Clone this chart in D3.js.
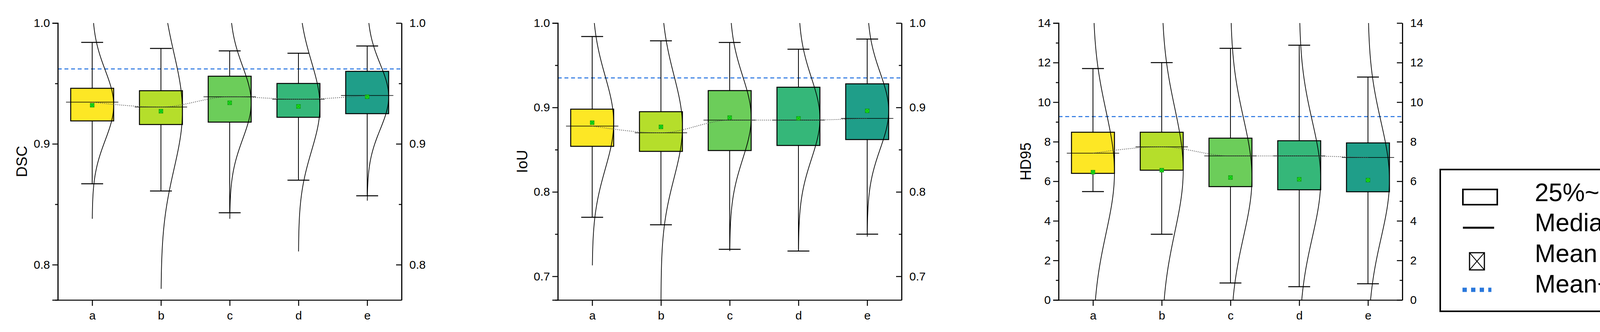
<!DOCTYPE html>
<html><head><meta charset="utf-8">
<script src="https://cdn.jsdelivr.net/npm/d3@7"></script>
<style>body{margin:0;background:#fff}text{font-family:"Liberation Sans",Arial,sans-serif}</style>
</head><body><svg id="c" width="4261" height="850"></svg>
<script>
const categories = ["a","b","c","d","e"];
const colors = ["#fde725","#b5de2b","#6ccd5a","#35b779","#1f9e89"];
// DSC
const dscWhiskHi = [0.984,0.979,0.977,0.975,0.981];
const dscQ3      = [0.946,0.944,0.956,0.950,0.960];
const dscMedian  = [0.9345,0.9305,0.939,0.937,0.940];
const dscMean    = [0.932,0.927,0.934,0.931,0.939];
const dscQ1      = [0.919,0.916,0.918,0.922,0.925];
const dscWhiskLo = [0.867,0.861,0.843,0.870,0.857];
const dscSD      = [0.029,0.048,0.030,0.037,0.027];
const dscCurveLo = [0.838,0.780,0.838,0.811,0.853];
const dscMeanSD  = 0.962;
// IoU
const iouWhiskHi = [0.984,0.979,0.977,0.969,0.981];
const iouQ3      = [0.898,0.895,0.920,0.924,0.928];
const iouMedian  = [0.878,0.870,0.885,0.885,0.887];
const iouMean    = [0.882,0.877,0.888,0.887,0.896];
const iouQ1      = [0.854,0.848,0.849,0.855,0.862];
const iouWhiskLo = [0.770,0.761,0.732,0.730,0.750];
const iouSD      = [0.055,0.061,0.049,0.048,0.045];
const iouCurveLo = [0.713,0.640,0.730,0.732,0.747];
const iouMeanSD  = 0.935;
// HD95
const hdWhiskHi = [11.70,12.00,12.72,12.88,11.27];
const hdQ3      = [8.48,8.48,8.18,8.05,7.94];
const hdMedian  = [7.42,7.74,7.28,7.28,7.20];
const hdMean    = [6.46,6.56,6.19,6.10,6.06];
const hdQ1      = [6.40,6.56,5.73,5.57,5.47];
const hdWhiskLo = [5.48,3.32,0.86,0.67,0.82];
const hdSD      = [3.10,3.15,3.00,2.95,2.95];
const hdCurveLo = [-2,-2,-2,-2,-2];
const hdMeanSD  = 9.27;
// axes
const dscDomain=[0.7708,1.0], dscTicks=[0.8,0.9,1.0], dscMinor=[0.85,0.95];
const iouDomain=[0.672,1.0], iouTicks=[0.7,0.8,0.9,1.0], iouMinor=[0.75,0.85,0.95];
const hdDomain=[0,14], hdTicks=[0,2,4,6,8,10,12,14], hdMinor=[1,3,5,7,9,11,13];
const legendLabels=["25%~75%","Median","Mean","Mean+SD"];

const panels=[
 {x0:148,label:"DSC",dom:dscDomain,ticks:dscTicks,minor:dscMinor,fmt:d3.format(".1f"),hi:dscWhiskHi,q3:dscQ3,med:dscMedian,mean:dscMean,q1:dscQ1,lo:dscWhiskLo,sd:dscSD,clo:dscCurveLo,msd:dscMeanSD,lx:55},
 {x0:1428,label:"IoU",dom:iouDomain,ticks:iouTicks,minor:iouMinor,fmt:d3.format(".1f"),hi:iouWhiskHi,q3:iouQ3,med:iouMedian,mean:iouMean,q1:iouQ1,lo:iouWhiskLo,sd:iouSD,clo:iouCurveLo,msd:iouMeanSD,lx:1336},
 {x0:2710,label:"HD95",dom:hdDomain,ticks:hdTicks,minor:hdMinor,fmt:d3.format("d"),hi:hdWhiskHi,q3:hdQ3,med:hdMedian,mean:hdMean,q1:hdQ1,lo:hdWhiskLo,sd:hdSD,clo:hdCurveLo,msd:hdMeanSD,lx:2625}
];
const svg=d3.select("#c");
const W=880, pTop=59, pBot=768;
panels.forEach((p,pi)=>{
  const g=svg.append("g");
  const x=d3.scalePoint().domain(categories).range([p.x0,p.x0+W]).padding(0.5);
  const y=d3.scaleLinear().domain(p.dom).range([pBot,pTop]);
  const step=x.step(), bw=step*0.625, hw=bw/2;
  const clipId="clip"+pi;
  svg.append("clipPath").attr("id",clipId).append("rect").attr("x",p.x0).attr("y",pTop).attr("width",W).attr("height",pBot-pTop);
  g.append("line").attr("x1",p.x0).attr("x2",p.x0+W).attr("y1",y(p.msd)).attr("y2",y(p.msd))
   .attr("stroke","#1f6fe0").attr("stroke-width",2.5).attr("stroke-dasharray","10,7");
  categories.forEach((c,i)=>{
    const cx=x(c);
    g.append("line").attr("x1",cx).attr("x2",cx).attr("y1",y(p.hi[i])).attr("y2",y(p.lo[i])).attr("stroke","#000").attr("stroke-width",2);
    [p.hi[i],p.lo[i]].forEach(v=>g.append("line").attr("x1",cx-28).attr("x2",cx+28).attr("y1",y(v)).attr("y2",y(v)).attr("stroke","#000").attr("stroke-width",2.5));
    g.append("rect").attr("x",cx-hw).attr("width",bw).attr("y",y(p.q3[i])).attr("height",y(p.q1[i])-y(p.q3[i]))
     .attr("fill",colors[i]).attr("stroke","#000").attr("stroke-width",2.5);
    g.append("line").attr("x1",cx-hw-12).attr("x2",cx+hw+12).attr("y1",y(p.med[i])).attr("y2",y(p.med[i])).attr("stroke","#000").attr("stroke-width",1.5);
    const vals=d3.range(0,401).map(k=>p.clo[i]+(p.dom[1]+(p.dom[1]-p.dom[0])*0.2-p.clo[i])*k/400);
    const line=d3.line().x(v=>cx+hw*Math.exp(-0.5*Math.pow((v-p.mean[i])/p.sd[i],2))).y(v=>y(v));
    g.append("path").attr("d",line(vals)).attr("fill","none").attr("stroke","#000").attr("stroke-width",1.8).attr("clip-path",`url(#${clipId})`);
    const my=y(p.mean[i]), s=5;
    g.append("rect").attr("x",cx-s).attr("y",my-s).attr("width",2*s).attr("height",2*s).attr("fill","#19e619").attr("stroke","#0a8a0a").attr("stroke-width",1);
    g.append("path").attr("d",`M${cx-s},${my-s}L${cx+s},${my+s}M${cx+s},${my-s}L${cx-s},${my+s}`).attr("stroke","#0a8a0a").attr("stroke-width",1);
  });
  g.append("path").attr("d",d3.line().x((v,i)=>x(categories[i])).y(v=>y(v)).curve(d3.curveMonotoneX)(p.med))
   .attr("fill","none").attr("stroke","#555").attr("stroke-width",2).attr("stroke-dasharray","2,3");
  g.append("g").attr("transform",`translate(${p.x0},0)`).call(d3.axisLeft(y).tickValues(p.ticks).tickFormat(p.fmt).tickSize(14).tickPadding(6));
  g.append("g").attr("transform",`translate(${p.x0},0)`).call(d3.axisLeft(y).tickValues(p.minor).tickFormat("").tickSize(7));
  g.append("g").attr("transform",`translate(${p.x0+W},0)`).call(d3.axisRight(y).tickValues(p.ticks).tickFormat(p.fmt).tickSizeInner(-14).tickSizeOuter(0).tickPadding(20));
  g.append("g").attr("transform",`translate(${p.x0+W},0)`).call(d3.axisRight(y).tickValues(p.minor).tickFormat("").tickSizeInner(-7).tickSizeOuter(0));
  g.append("g").attr("transform",`translate(0,${pBot})`).call(d3.axisBottom(x).tickSize(15).tickSizeOuter(0).tickPadding(14));
  g.selectAll(".domain").attr("stroke","#000").attr("stroke-width",2.5);
  g.selectAll(".tick line").attr("stroke","#000").attr("stroke-width",2.5);
  g.selectAll(".tick text").attr("font-size",30).attr("font-family","Liberation Sans, Arial").attr("fill","#000");
  g.append("text").attr("transform",`translate(${p.lx+14},${(pTop+pBot)/2}) rotate(-90)`).attr("text-anchor","middle")
   .attr("font-size",38).text(p.label);
});
const L=svg.append("g");
L.append("rect").attr("x",3687).attr("y",434).attr("width",541).attr("height",363).attr("fill","#fff").attr("stroke","#000").attr("stroke-width",4);
L.append("rect").attr("x",3745).attr("y",485).attr("width",88).attr("height",39).attr("fill","#fff").attr("stroke","#000").attr("stroke-width",4);
L.append("line").attr("x1",3745).attr("x2",3825).attr("y1",583).attr("y2",583).attr("stroke","#000").attr("stroke-width",5);
L.append("rect").attr("x",3762).attr("y",647).attr("width",38).attr("height",44).attr("fill","#fff").attr("stroke","#000").attr("stroke-width",3);
L.append("path").attr("d","M3762,647L3800,691M3800,647L3762,691").attr("stroke","#000").attr("stroke-width",2);
L.append("line").attr("x1",3744).attr("x2",3818).attr("y1",742).attr("y2",742).attr("stroke","#2a78dc").attr("stroke-width",11).attr("stroke-dasharray","11,11");
[515,592,671,749].forEach((yy,i)=>L.append("text").attr("x",3929).attr("y",yy).attr("font-size",64).attr("fill","#000").text(legendLabels[i]));
</script></body></html>
